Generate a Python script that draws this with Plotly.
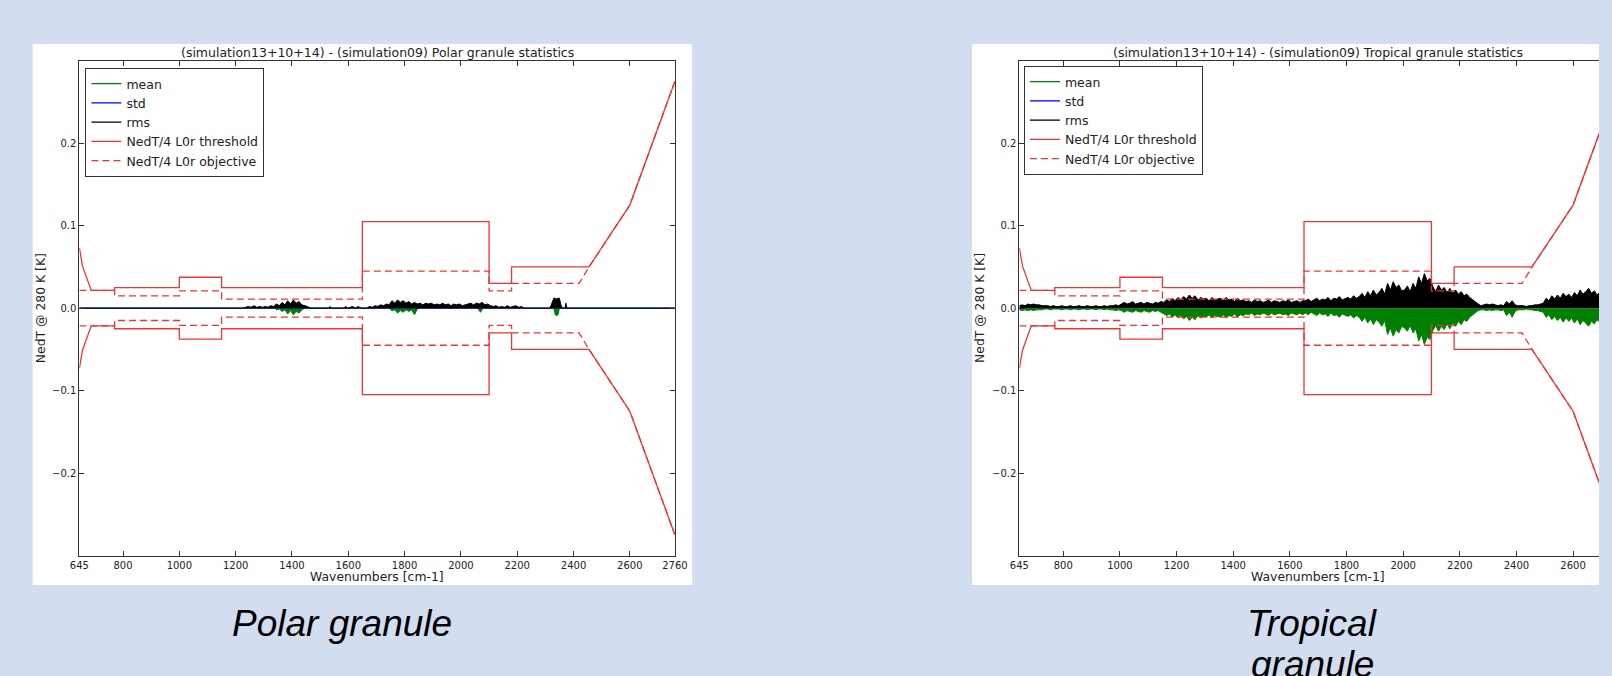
import numpy as np
import plotly.graph_objects as go

W, H = 1612, 676

# ---------------- ticks ----------------
X_TICKS_LEFT = [645, 800, 1000, 1200, 1400, 1600, 1800, 2000, 2200, 2400, 2600, 2760]
X_TICKS_RIGHT = [645, 800, 1000, 1200, 1400, 1600, 1800, 2000, 2200, 2400, 2600]
Y_TICKS = [-0.2, -0.1, 0.0, 0.1, 0.2]

# ---------------- NedT/4 L0r threshold & objective (K, mirrored +/-) ----------------
THR_WN = [645, 656, 687, 770, 770, 1000, 1000, 1150, 1150, 1650, 1650, 2100, 2100, 2180, 2180, 2455, 2600, 2760]
THR_K = [0.073, 0.051, 0.0215, 0.0215, 0.025, 0.025, 0.0375, 0.0375, 0.025, 0.025, 0.105, 0.105,
         0.030, 0.030, 0.050, 0.050, 0.125, 0.275]
OBJ_WN = [645, 770, 770, 1000, 1000, 1150, 1150, 1650, 1650, 2100, 2100, 2180, 2180, 2420, 2455, 2600, 2760]
OBJ_K = [0.0215, 0.0215, 0.015, 0.015, 0.021, 0.021, 0.011, 0.011, 0.045, 0.045, 0.021, 0.021,
         0.030, 0.030, 0.050, 0.125, 0.275]

# ---------------- Tropical granule (mK, 10 cm-1 grid from 645) ----------------
TROP_WN0, TROP_DWN = 645, 10
TROP_RMS_MK = [
    3, 4, 3, 5, 4, 5, 4, 4, 3, 3,                                   # 645-735
    3, 2, 3, 2,                                                     # 745-775
    2, 3, 2, 2, 3, 2, 2, 3, 2, 2, 3, 2, 2, 3, 2, 2, 3, 2, 3, 3, 4, 3,  # 785-995
    5, 7, 5, 6, 8, 5, 6, 7, 5, 7, 6, 5, 7, 6, 8,                    # 1005-1145
    7, 10, 8, 12, 9, 13, 10, 14, 11, 16, 12, 15, 10, 13, 11, 12, 9, 13, 10, 11,  # 1155-1345
    12, 9, 13, 10, 11, 8, 12, 9, 10, 8,                             # 1355-1445
    9, 7, 10, 8, 9, 7, 8, 10, 7, 9, 8, 7, 9, 8, 10, 7, 8, 9, 7, 9,  # 1455-1645
    9, 11, 8, 10, 12, 9, 11, 10, 13, 9, 12, 11, 14, 10, 12, 13, 11, 15, 12, 14,  # 1655-1845
    18, 13, 20, 15, 22, 16, 19, 24, 17,                             # 1855-1935
    30, 22, 32, 25, 28, 21,                                         # 1945-1995
    22, 27, 20, 30, 24,                                             # 2005-2045
    38, 30, 42, 33, 36,                                             # 2055-2095
    26, 20, 28, 22, 25, 19, 24, 18, 22, 17, 20, 15, 17, 13,         # 2105-2235
    10, 7, 5, 3,                                                    # 2245-2275
    4, 5, 4, 5, 4, 3, 4, 3,                                         # 2285-2355
    8, 5, 9, 4, 3,                                                  # 2365-2405
    3, 3, 2, 3, 3, 4, 4, 5, 6,                                      # 2415-2495
    12, 9, 15, 11, 16, 12, 18, 14, 17, 13,                          # 2505-2595
    19, 15, 22, 17, 20, 24, 18, 21, 16, 20, 23, 18, 21, 17, 19, 16,  # 2605-2755
]
TROP_MEAN_MK = [
    -2, -3, -2, -3, -2, -3, -2, -2, -2, -1,
    -1, -2, -1, -1,
    -1, -2, -1, -1, -2, -1, -1, -2, -1, -1, -2, -1, -1, -2, -1, -1, -2, -1, -2, -2, -3, -2,
    -3, -5, -3, -4, -5, -3, -4, -5, -3, -4, -5, -3, -4, -3, -5,
    -6, -9, -7, -11, -8, -12, -9, -13, -10, -15, -11, -14, -9, -12, -10, -11, -8, -12, -9, -10,
    -11, -8, -12, -9, -10, -7, -11, -8, -9, -7,
    -8, -6, -9, -7, -8, -6, -7, -9, -6, -8, -7, -6, -8, -7, -9, -6, -7, -8, -6, -8,
    -6, -8, -5, -7, -9, -6, -8, -7, -10, -6, -9, -8, -11, -7, -9, -10, -8, -12, -9, -11,
    -16, -11, -18, -13, -20, -14, -17, -22, -15,
    -32, -24, -34, -26, -30, -22,
    -24, -28, -21, -30, -25,
    -40, -32, -44, -35, -38,
    -27, -21, -28, -22, -26, -19, -25, -18, -22, -16, -20, -14, -16, -11,
    -8, -5, -3, -2,
    -2, -3, -2, -3, -2, -2, -3, -2,
    -9, -5, -11, -4, -2,
    -2, -2, -1, -2, -2, -3, -3, -4, -5,
    -11, -8, -14, -10, -15, -11, -17, -12, -16, -12,
    -18, -13, -20, -15, -18, -22, -16, -19, -14, -18, -21, -16, -19, -15, -17, -14,
]
TROP_STD_WN = [645, 1000, 1650, 1900, 2050, 2100, 2250, 2380, 2395, 2410, 2500, 2760]
TROP_STD_MK = [0.5, 0.6, 0.8, 1.0, 1.5, 1.2, 0.6, 1.0, 2.0, 0.8, 0.9, 1.0]

# ---------------- Polar granule (mK, sparse samples) ----------------
POLAR_RMS_WN = [645, 1225,
                1235, 1245, 1255, 1265, 1275, 1285, 1295, 1305, 1315, 1325, 1335,
                1345, 1355, 1365, 1375, 1385, 1395, 1405, 1415, 1425, 1435, 1445, 1455, 1465,
                1530, 1535, 1540, 1585, 1590, 1600, 1615, 1625, 1635, 1645,
                1665, 1675, 1685, 1695, 1705, 1715, 1725, 1735, 1745, 1755, 1765, 1775, 1785,
                1795, 1805, 1815, 1825, 1835, 1845, 1855, 1865, 1875, 1885, 1895, 1905, 1915,
                1925, 1935, 1945, 1955, 1965, 1975, 1985, 1995, 2005, 2015, 2025, 2035, 2045,
                2055, 2065, 2075, 2085, 2095, 2105, 2115, 2125, 2135, 2145, 2155, 2165, 2175,
                2185, 2195, 2205, 2215, 2225,
                2315, 2320, 2325, 2330, 2335, 2340, 2345, 2350, 2355, 2360, 2370, 2373, 2376,
                2760]
POLAR_RMS_MK = [0, 0,
                1, 2, 1, 3, 1, 2, 1, 2, 1, 3, 2,
                5, 3, 7, 4, 9, 5, 10, 6, 8, 4, 3, 2, 0,
                0, 2, 0, 0, 2, 0, 2, 0, 2, 0,
                0, 2, 1, 3, 2, 4, 3, 5, 4, 9, 6, 10, 7,
                9, 6, 8, 5, 7, 5, 6, 4, 6, 5, 6, 4, 5,
                4, 6, 4, 5, 3, 5, 4, 5, 3, 4, 5, 6, 4,
                6, 5, 7, 4, 5, 3, 2, 3, 1, 2, 1, 3, 1,
                2, 3, 1, 2, 0,
                0, 3, 8, 12, 12, 11, 12, 12, 4, 0, 0, 6, 0,
                0]
POLAR_MEAN_WN = [645, 1340, 1345, 1355, 1365, 1375, 1385, 1395, 1405, 1415, 1425, 1435, 1445,
                 1745, 1755, 1765, 1775, 1785, 1795, 1805, 1815, 1825, 1835, 1845, 1855,
                 2060, 2065, 2070, 2075, 2080, 2330, 2335, 2340, 2345, 2350, 2760]
POLAR_MEAN_MK = [0, 0, -2, -1, -4, -2, -7, -3, -8, -4, -6, -2, 0,
                 0, -3, -2, -6, -3, -5, -2, -4, -2, -8, -1, 0,
                 0, -3, -5, -2, 0, 0, -8, -9, -8, 0, 0]
POLAR_STD_WN = [645, 2760]
POLAR_STD_MK = [0, 0]

# ---------------- styling ----------------
BG = "#d3ddf0"
GREEN, BLUE, BLACK, RED = "#008000", "#0000ff", "#000000", "#ee3434"
FONT = "DejaVu Sans"
TXT = "#222222"

# pixel geometry -> paper fractions
def px(x):
    return x / W

def py(y):
    return 1 - y / H

L_X = [px(70.4), px(674.5)]
R_X = [px(1024), 1.0]
Y_DOM = [py(555.5), py(60.8)]
R_XMAX = 645 + (1612 - 1024) / 0.2873

fig = go.Figure()


def mk(vals):
    return [v / 1000.0 for v in vals]


def add_panel(xa, ya, leg, rms_wn, rms, mean_wn, mean, std_wn, std):
    common = dict(xaxis=xa, yaxis=ya, hoverinfo="skip", mode="lines")
    fig.add_trace(go.Scatter(x=mean_wn, y=mk(mean), line=dict(color=GREEN, width=1),
                             fill="tozeroy", fillcolor=GREEN, showlegend=False, **common))
    fig.add_trace(go.Scatter(x=std_wn, y=mk(std), line=dict(color=BLUE, width=1),
                             showlegend=False, **common))
    fig.add_trace(go.Scatter(x=rms_wn, y=mk(rms), line=dict(color=BLACK, width=1),
                             fill="tozeroy", fillcolor=BLACK, showlegend=False, **common))
    # legend entries (line samples only)
    for name, col in [("mean", GREEN), ("std", BLUE), ("rms", BLACK)]:
        fig.add_trace(go.Scatter(x=[None], y=[None], name=name, legend=leg,
                                 line=dict(color=col, width=1.3), **common))
    fig.add_trace(go.Scatter(x=THR_WN, y=THR_K, name="NedT/4 L0r threshold", legend=leg,
                             line=dict(color=RED, width=1.3), **common))
    fig.add_trace(go.Scatter(x=THR_WN, y=[-v for v in THR_K], showlegend=False,
                             line=dict(color=RED, width=1.3), **common))
    fig.add_trace(go.Scatter(x=OBJ_WN, y=OBJ_K, name="NedT/4 L0r objective", legend=leg,
                             line=dict(color=RED, width=1.3, dash="7px,4px"), **common))
    fig.add_trace(go.Scatter(x=OBJ_WN, y=[-v for v in OBJ_K], showlegend=False,
                             line=dict(color=RED, width=1.3, dash="7px,4px"), **common))


trop_wn = [TROP_WN0 + TROP_DWN * i for i in range(len(TROP_RMS_MK))]

add_panel("x", "y", "legend", POLAR_RMS_WN, POLAR_RMS_MK, POLAR_MEAN_WN, POLAR_MEAN_MK,
          POLAR_STD_WN, POLAR_STD_MK)
add_panel("x2", "y2", "legend2", trop_wn, TROP_RMS_MK, trop_wn, TROP_MEAN_MK,
          TROP_STD_WN, TROP_STD_MK)

axis_common = dict(showgrid=False, zeroline=False, showline=True, linecolor="#333333",
                   linewidth=1, ticks="inside", ticklen=5, tickwidth=1, tickcolor="#333333",
                   tickfont=dict(family=FONT, size=10, color=TXT))

fig.update_layout(
    width=W, height=H, margin=dict(l=0, r=0, t=0, b=0),
    paper_bgcolor=BG, plot_bgcolor="white",
    xaxis=dict(domain=L_X, range=[645, 2760], tickvals=X_TICKS_LEFT, mirror="ticks",
               anchor="y", **axis_common),
    yaxis=dict(domain=Y_DOM, range=[-0.3, 0.3], tickvals=Y_TICKS, tickformat=".1f",
               mirror="ticks", anchor="x", **axis_common),
    xaxis2=dict(domain=R_X, range=[645, R_XMAX], tickvals=X_TICKS_RIGHT, mirror="ticks",
                anchor="y2", **axis_common),
    yaxis2=dict(domain=Y_DOM, range=[-0.3, 0.3], tickvals=Y_TICKS, tickformat=".1f",
                mirror=False, anchor="x2", **axis_common),
    legend=dict(x=px(76.5), y=py(68), xanchor="left", yanchor="top", bgcolor="white",
                bordercolor="#333333", borderwidth=1, itemwidth=30, tracegroupgap=0,
                font=dict(family=FONT, size=12.5, color=TXT)),
    legend2=dict(x=px(1028.6), y=py(66), xanchor="left", yanchor="top", bgcolor="white",
                 bordercolor="#333333", borderwidth=1, itemwidth=30, tracegroupgap=0,
                 font=dict(family=FONT, size=12.5, color=TXT)),
    showlegend=True,
)

# white figure panels behind each chart
for x0, x1 in [(23, 692), (976, W)]:
    fig.add_shape(type="rect", xref="paper", yref="paper", x0=px(x0), x1=px(x1),
                  y0=py(585), y1=py(44), fillcolor="white", line=dict(width=0), layer="below")

ann = []
# titles
ann.append(dict(text="(simulation13+10+14) - (simulation09) Polar granule statistics",
                x=px(372.5), y=py(52.7), font=dict(family=FONT, size=12.5, color=TXT)))
ann.append(dict(text="(simulation13+10+14) - (simulation09) Tropical granule statistics",
                x=px(1327), y=py(52.7), font=dict(family=FONT, size=12.5, color=TXT)))
# axis titles
for cx in (372.5, 1327):
    ann.append(dict(text="Wavenumbers [cm-1]", x=px(cx), y=py(576),
                    font=dict(family=FONT, size=12.4, color=TXT)))
for cx in (30.6, 983):
    ann.append(dict(text="NedT @ 280 K [K]", x=px(cx), y=py(308), textangle=-90,
                    font=dict(family=FONT, size=12.4, color=TXT)))
# slide captions
cap_font = dict(family="Liberation Sans", size=37, color="black")
ann.append(dict(text="<i>Polar granule</i>", x=px(336.5), y=py(623), font=cap_font))
ann.append(dict(text="<i>Tropical</i>", x=px(1321.5), y=py(623), font=cap_font))
ann.append(dict(text="<i>granule</i>", x=px(1321.5), y=py(664), font=cap_font))

for a in ann:
    a.update(xref="paper", yref="paper", showarrow=False, xanchor="center", yanchor="middle")
    fig.add_annotation(**a)

fig.write_html("out.html")
